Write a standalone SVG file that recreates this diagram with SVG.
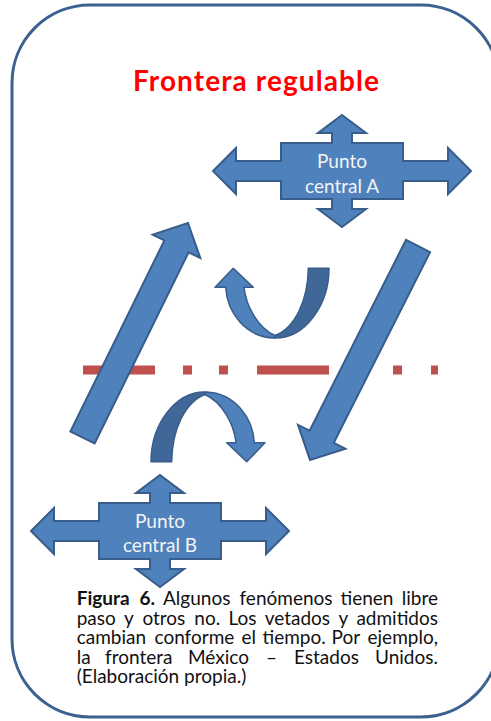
<svg xmlns="http://www.w3.org/2000/svg" xmlns:xlink="http://www.w3.org/1999/xlink" width="491" height="721" viewBox="0 0 491 721">
  <style>
    .frame { fill: #ffffff; stroke: #3a6190; stroke-width: 3; }
    .shape { fill: #4f81bd; stroke: #385d8a; stroke-width: 2; stroke-linejoin: miter; }
    .back { fill: #3f6899; stroke: #385d8a; stroke-width: 1.5; stroke-linejoin: round; }
    .front { fill: #4f81bd; stroke: #385d8a; stroke-width: 1.5; stroke-linejoin: round; }
    .title { font-family: Lato, "Liberation Sans", sans-serif; font-weight: bold; font-size: 28px; fill: #ff0000; }
    .label { font-family: Lato, "Liberation Sans", sans-serif; font-size: 19px; fill: #f4f4f4; text-anchor: middle; }
    .caption { font-family: Lato, "Liberation Sans", sans-serif; font-size: 19px; fill: #111111; }
    .b { font-weight: bold; }
    .end { text-anchor: end; }
  </style>
  <defs>
    <!-- four-way arrow centred on the origin -->
    <polygon id="quad" class="shape" points="0,-56 24,-38 10,-38 10,-28 61,-28 61,-10 106,-10 106,-23 129,0 106,23 106,10 61,10 61,28 10,28 10,38 24,38 0,56 -24,38 -10,38 -10,28 -61,28 -61,10 -106,10 -106,23 -129,0 -106,-23 -106,-10 -61,-10 -61,-28 -10,-28 -10,-38 -24,-38"/>
    <!-- U-turn ribbon arrow -->
    <g id="uturn">
      <path class="back" d="M274,338 C305,339 329,305 329,268.3 L308.3,268.3 C308,300 295,328 275,335.5 Z"/>
      <path class="front" d="M233.3,268.3 L253.3,287.3 L244,287.3 C246,306 258,328 275,335.5 L274,338 C245,337 227,312 225.7,287.3 L215,287.3 Z"/>
    </g>
  </defs>

  <rect class="frame" x="12" y="5" width="487" height="712" rx="78" ry="78"/>

  <text id="title" class="title" x="256" y="91" text-anchor="middle" textLength="246" lengthAdjust="spacing">Frontera regulable</text>

  <!-- border line -->
  <g id="border">
    <line x1="83" y1="370" x2="438" y2="370" stroke="#c0504d" stroke-width="9" stroke-dasharray="72 28 9 27 9 29"/>
  </g>

  <g id="connectors">
    <polygon class="shape" points="94.6,443.5 188.6,252.3 200.3,258 188,223 152.7,234.6 164.4,240.4 70.4,431.6"/>
    <polygon class="shape" points="430.1,252.1 333.8,442.9 345.4,448.7 310,460 298,424.9 309.6,430.7 406,239.9"/>
    <use xlink:href="#uturn"/>
    <use xlink:href="#uturn" transform="rotate(180 240 365)"/>
  </g>

  <g id="punto-a">
    <use xlink:href="#quad" transform="translate(342 171)"/>
    <text class="label" x="342" y="168">Punto</text>
    <text class="label" x="342" y="192.5">central A</text>
  </g>

  <g id="punto-b">
    <use xlink:href="#quad" transform="translate(160 531)"/>
    <text class="label" x="160" y="528">Punto</text>
    <text class="label" x="160" y="552">central B</text>
  </g>

  <!-- justified caption: words placed one by one -->
  <g id="caption" class="caption">
    <text y="605"><tspan class="b" x="76.7">Figura</tspan><tspan class="b" x="139.5">6.</tspan><tspan x="163">Algunos</tspan><tspan x="239.5">fenómenos</tspan><tspan x="340.5">tienen</tspan><tspan class="end" x="438">libre</tspan></text>
    <text y="624.5"><tspan x="76.7">paso</tspan><tspan x="124">y</tspan><tspan x="142.4">otros</tspan><tspan x="194.3">no.</tspan><tspan x="228.4">Los</tspan><tspan x="264.7">vetados</tspan><tspan x="338.5">y</tspan><tspan class="end" x="438">admitidos</tspan></text>
    <text y="644"><tspan x="76.7">cambian</tspan><tspan x="154.5">conforme</tspan><tspan x="241.5">el</tspan><tspan x="262.5">tiempo.</tspan><tspan x="331.6">Por</tspan><tspan class="end" x="438">ejemplo,</tspan></text>
    <text y="663.5"><tspan x="76.7">la</tspan><tspan x="105">frontera</tspan><tspan x="188">México</tspan><tspan x="266">–</tspan><tspan x="294">Estados</tspan><tspan class="end" x="438">Unidos.</tspan></text>
    <text x="76.7" y="683">(Elaboración propia.)</text>
  </g>
</svg>
